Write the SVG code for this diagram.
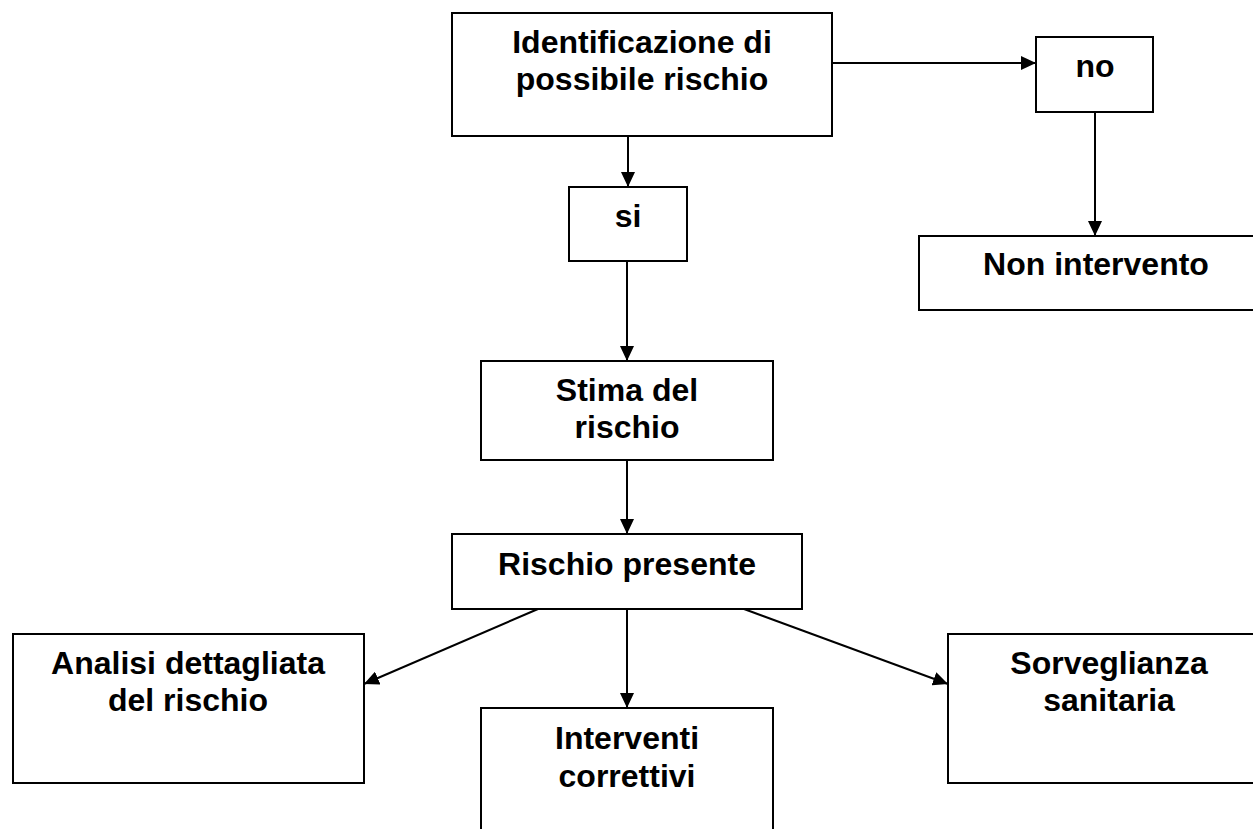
<svg xmlns="http://www.w3.org/2000/svg" width="1253" height="829" viewBox="0 0 1253 829">
  <style>
    .box { fill: #ffffff; stroke: #000000; stroke-width: 2; }
    .lbl { font-family: "Liberation Sans", Arial, sans-serif; font-weight: bold; font-size: 32px; fill: #000000; text-anchor: middle; }
    .edge { stroke: #000000; stroke-width: 2; fill: none; marker-end: url(#head); }
  </style>
  <defs>
    <marker id="head" markerUnits="userSpaceOnUse" markerWidth="16" markerHeight="14" refX="15" refY="7" orient="auto">
      <path d="M0,0 L15,7 L0,14 z" fill="#000000"/>
    </marker>
  </defs>
  <rect width="1253" height="829" fill="#ffffff"/>

  <g id="n-identificazione">
    <rect class="box" x="452" y="13" width="380" height="123"/>
    <text class="lbl" x="642" y="53">Identificazione di</text>
    <text class="lbl" x="642" y="90">possibile rischio</text>
  </g>
  <g id="n-no">
    <rect class="box" x="1036" y="37" width="117" height="75"/>
    <text class="lbl" x="1095" y="77">no</text>
  </g>
  <g id="n-non-intervento">
    <rect class="box" x="919" y="236" width="360" height="74"/>
    <text class="lbl" x="1096" y="275">Non intervento</text>
  </g>
  <g id="n-si">
    <rect class="box" x="569" y="187" width="118" height="74"/>
    <text class="lbl" x="628" y="227">si</text>
  </g>
  <g id="n-stima">
    <rect class="box" x="481" y="361" width="292" height="99"/>
    <text class="lbl" x="627" y="401">Stima del</text>
    <text class="lbl" x="627" y="438">rischio</text>
  </g>
  <g id="n-rischio-presente">
    <rect class="box" x="452" y="534" width="350" height="75"/>
    <text class="lbl" x="627" y="575">Rischio presente</text>
  </g>
  <g id="n-analisi">
    <rect class="box" x="13" y="634" width="351" height="149"/>
    <text class="lbl" x="188" y="674">Analisi dettagliata</text>
    <text class="lbl" x="188" y="711">del rischio</text>
  </g>
  <g id="n-interventi">
    <rect class="box" x="481" y="708" width="292" height="160"/>
    <text class="lbl" x="627" y="749">Interventi</text>
    <text class="lbl" x="627" y="787">correttivi</text>
  </g>
  <g id="n-sorveglianza">
    <rect class="box" x="948" y="634" width="322" height="149"/>
    <text class="lbl" x="1109" y="674">Sorveglianza</text>
    <text class="lbl" x="1109" y="711">sanitaria</text>
  </g>

  <g id="connectors">
    <line class="edge" x1="832" y1="63" x2="1036" y2="63"/>
    <line class="edge" x1="1095" y1="112" x2="1095" y2="236"/>
    <line class="edge" x1="628" y1="136" x2="628" y2="187"/>
    <line class="edge" x1="627" y1="261" x2="627" y2="361"/>
    <line class="edge" x1="627" y1="460" x2="627" y2="534"/>
    <line class="edge" x1="538" y1="609" x2="364" y2="684"/>
    <line class="edge" x1="627" y1="609" x2="627" y2="708"/>
    <line class="edge" x1="744" y1="609" x2="948" y2="684"/>
  </g>
</svg>
